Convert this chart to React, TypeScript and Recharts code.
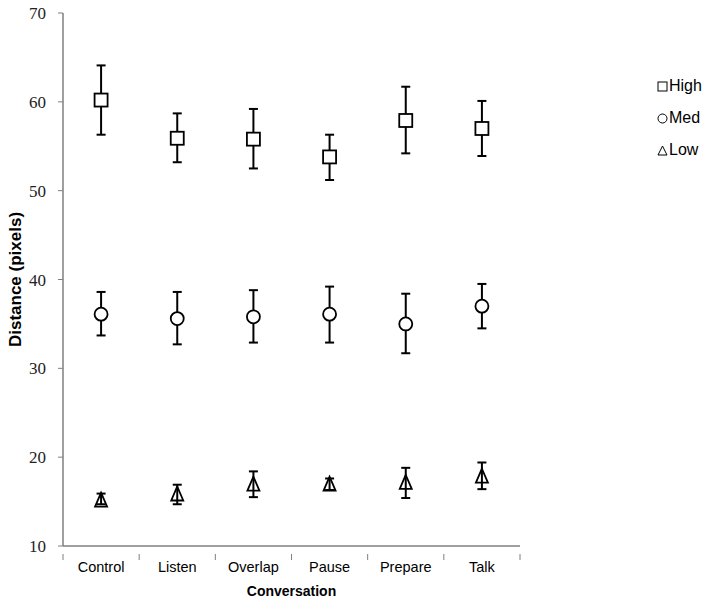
import React from "react";
import {
  ErrorBar,
  Line,
  LineChart,
  XAxis,
  YAxis,
} from "recharts";

// Conversation conditions (x categories)
const categories = ["Control", "Listen", "Overlap", "Pause", "Prepare", "Talk"];

// High group: mean and error bar ends
const highMean = [60.2, 55.9, 55.8, 53.8, 57.9, 57.0];
const highUpper = [64.1, 58.7, 59.2, 56.3, 61.7, 60.1];
const highLower = [56.3, 53.2, 52.5, 51.2, 54.2, 53.9];

// Med group
const medMean = [36.1, 35.6, 35.8, 36.1, 35.0, 37.0];
const medUpper = [38.6, 38.6, 38.8, 39.2, 38.4, 39.5];
const medLower = [33.7, 32.7, 32.9, 32.9, 31.7, 34.5];

// Low group
const lowMean = [15.1, 15.8, 16.9, 16.9, 17.1, 17.8];
const lowUpper = [15.9, 16.9, 18.4, 17.6, 18.8, 19.4];
const lowLower = [14.7, 14.7, 15.5, 16.3, 15.4, 16.4];

const yTicks = [10, 20, 30, 40, 50, 60, 70];
const seriesNames = ["High", "Med", "Low"];

const AXIS = "#7f7f7f";
const SANS = "'Liberation Sans', Arial, sans-serif";
const SERIF = "'Liberation Serif', 'Times New Roman', serif";

const data = categories.map((label, i) => ({
  x: i + 0.5,
  label,
  high: highMean[i],
  highErr: [highMean[i] - highLower[i], highUpper[i] - highMean[i]],
  med: medMean[i],
  medErr: [medMean[i] - medLower[i], medUpper[i] - medMean[i]],
  low: lowMean[i],
  lowErr: [lowMean[i] - lowLower[i], lowUpper[i] - lowMean[i]],
}));

// boundaries get a tick mark, band centres get the category label
const xTicks: number[] = [];
for (let i = 0; i <= categories.length; i++) {
  xTicks.push(i);
  if (i < categories.length) xTicks.push(i + 0.5);
}

function XTick(props: any) {
  const { x, y, payload } = props;
  const v = payload.value as number;
  if (Number.isInteger(v)) {
    return <line x1={x} x2={x} y1={y} y2={y + 6} stroke={AXIS} strokeWidth={1} />;
  }
  return (
    <text x={x} y={y + 18} textAnchor="middle" fontFamily={SANS} fontSize={14.5} fill="#000">
      {categories[Math.floor(v)]}
    </text>
  );
}

const SquareDot = (p: any) =>
  p.cx == null ? null : (
    <rect key={p.index} x={p.cx - 6.5} y={p.cy - 6.5} width={13} height={13} fill="#fff" stroke="#000" strokeWidth={1.8} />
  );

const CircleDot = (p: any) =>
  p.cx == null ? null : (
    <circle key={p.index} cx={p.cx} cy={p.cy} r={6.5} fill="#fff" stroke="#000" strokeWidth={1.8} />
  );

const TriangleDot = (p: any) =>
  p.cx == null ? null : (
    <polygon
      key={p.index}
      points={`${p.cx},${p.cy - 8} ${p.cx - 6},${p.cy + 6} ${p.cx + 6},${p.cy + 6}`}
      fill="none"
      stroke="#000"
      strokeWidth={1.8}
    />
  );

function LegendIcon({ name }: { name: string }) {
  if (name === "High") return <rect x={1} y={2} width={9} height={9} fill="none" stroke="#000" strokeWidth={1} />;
  if (name === "Med") return <circle cx={5.5} cy={6.5} r={4.5} fill="none" stroke="#000" strokeWidth={1} />;
  return <polygon points="5.5,2 1,11 10,11" fill="none" stroke="#000" strokeWidth={1} />;
}

function ChartLegend() {
  return (
    <div style={{ position: "absolute", left: 657, top: 70, fontFamily: SANS, fontSize: 16, color: "#000" }}>
      {seriesNames.map((name) => (
        <div key={name} style={{ display: "flex", alignItems: "center", height: 32 }}>
          <svg width={11} height={13} style={{ marginRight: 1 }}>
            <LegendIcon name={name} />
          </svg>
          {name}
        </div>
      ))}
    </div>
  );
}

export default function App() {
  return (
    <div style={{ position: "absolute", left: 0, top: 0, width: 714, height: 605, background: "#fff" }}>
      <LineChart width={714} height={605} data={data} margin={{ top: 13, right: 194, bottom: 0, left: 0 }}>
        <XAxis
          dataKey="x"
          type="number"
          domain={[0, categories.length]}
          ticks={xTicks}
          interval={0}
          tick={<XTick />}
          tickLine={false}
          axisLine={{ stroke: AXIS, strokeWidth: 1.5 }}
          height={59}
          label={{
            value: "Conversation",
            position: "insideBottom",
            offset: 9,
            style: { fontFamily: SANS, fontSize: 14, fontWeight: "bold", fill: "#000" },
          }}
        />
        <YAxis
          type="number"
          domain={[10, 70]}
          ticks={yTicks}
          interval={0}
          width={63}
          tickSize={5}
          tickMargin={12}
          tickLine={{ stroke: AXIS }}
          axisLine={{ stroke: AXIS, strokeWidth: 1.5 }}
          tick={{ fontFamily: SERIF, fontSize: 17, fill: "#222" }}
          label={{
            value: "Distance (pixels)",
            angle: -90,
            position: "insideLeft",
            offset: 15,
            style: { fontFamily: SANS, fontSize: 17, fontWeight: "bold", fill: "#000", textAnchor: "middle" },
          }}
        />
        <Line dataKey="high" name="High" stroke="none" dot={SquareDot} activeDot={false} isAnimationActive={false}>
          <ErrorBar dataKey="highErr" direction="y" width={4.5} stroke="#000" strokeWidth={2} />
        </Line>
        <Line dataKey="med" name="Med" stroke="none" dot={CircleDot} activeDot={false} isAnimationActive={false}>
          <ErrorBar dataKey="medErr" direction="y" width={4.5} stroke="#000" strokeWidth={2} />
        </Line>
        <Line dataKey="low" name="Low" stroke="none" dot={TriangleDot} activeDot={false} isAnimationActive={false}>
          <ErrorBar dataKey="lowErr" direction="y" width={4.5} stroke="#000" strokeWidth={2} />
        </Line>
      </LineChart>
      <ChartLegend />
    </div>
  );
}
